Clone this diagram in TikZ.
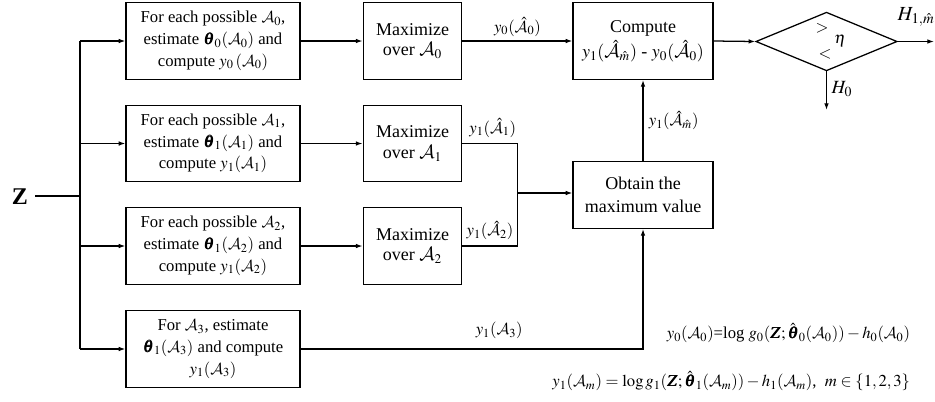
\documentclass[tikz,border=0pt]{standalone}
\usepackage{amsmath}
\usepackage{mathptmx}
\usepackage{bm}
\usepackage[no-math]{fontspec}
\setmainfont{Liberation Serif}
\DeclareMathAlphabet{\mathcal}{OMS}{cmsy}{m}{n}
\usetikzlibrary{shapes.geometric,arrows.meta}
\newcommand{\cA}{\mathcal{A}}
\begin{document}
\begin{tikzpicture}[x=0.75pt,y=-0.75pt,
  line width=0.95pt,
  arr/.style={-{Latex[length=5pt,width=3.5pt]}},
  estbox/.style={draw,align=center,minimum width=130.5pt,minimum height=57.5pt,inner sep=2pt,font=\fontsize{12.5}{16.3}\selectfont},
  maxbox/.style={draw,align=center,minimum width=74pt,minimum height=57.5pt,inner sep=2pt,font=\fontsize{13.5}{15.5}\selectfont},
  lbl/.style={font=\fontsize{12.5}{14}\selectfont,inner sep=1pt}]
\useasboundingbox (0,0) rectangle (935,401);
% input
\node[font=\fontsize{18}{18}\bfseries\selectfont] (z) at (20,197) {Z};
\coordinate (zr) at (35,196);
\coordinate (bus) at (80,196);
\coordinate (bt) at (80,41);
\coordinate (bb) at (80,349);
% estimation boxes
\node[estbox] (b0) at (213,41) {For each possible $\cA_0$,\\ estimate $\bm{\theta}_0(\cA_0)$ and\\ compute $y_0\,(\cA_0)$};
\node[estbox] (b1) at (213,143.5) {For each possible $\cA_1$,\\ estimate $\bm{\theta}_1(\cA_1)$ and\\ compute $y_1(\cA_1)$};
\node[estbox] (b2) at (213,246) {For each possible $\cA_2$,\\ estimate $\bm{\theta}_1(\cA_2)$ and\\ compute $y_1(\cA_2)$};
\node[estbox] (b3) at (213,349) {For $\cA_3$, estimate\\ $\bm{\theta}_1(\cA_3)$ and compute\\ $y_1(\cA_3)$};
% maximize boxes
\node[maxbox] (m0) at (412.5,41) {Maximize\\ over $\cA_0$};
\node[maxbox] (m1) at (412.5,143.5) {Maximize\\ over $\cA_1$};
\node[maxbox] (m2) at (412.5,246) {Maximize\\ over $\cA_2$};
% compute & obtain
\node[draw,align=center,minimum width=105pt,minimum height=57.5pt,inner sep=2pt,font=\fontsize{13.5}{19}\selectfont] (cmp) at (643,41)
  {Compute\\ $y_1(\hat{\cA}_{\hat m})$ - $y_0(\hat{\cA}_0)$};
\node[draw,align=center,minimum width=105pt,minimum height=50pt,inner sep=2pt,font=\fontsize{13.5}{17}\selectfont] (obt) at (643,195)
  {Obtain the\\ maximum value};
% decision diamond
\node[draw,diamond,minimum width=106pt,minimum height=44pt,inner sep=0pt] (dec) at (826.5,41.5) {};
\node[lbl] (gt) at (822,28) {$>$};
\node[lbl] (lt) at (825,54) {$<$};
\node[lbl] (eta) at (840,41) {$\eta$};
\coordinate (h1end) at (934,41.5);
\coordinate (h0end) at (826.5,110);
% connectors
\draw (zr) -- (bus);
\draw (bt) -- (bb);
\draw[arr] (bt) -- (b0.west);
\draw[arr] (bus |- b1.west) -- (b1.west);
\draw[arr] (bus |- b2.west) -- (b2.west);
\draw[arr] (bb) -- (b3.west);
\draw[arr] (b0) -- (m0);
\draw[arr] (b1) -- (m1);
\draw[arr] (b2) -- (m2);
\coordinate (j) at (517.5,193);
\draw[arr] (m0) -- node[lbl,above=2pt] (l0) {$y_0(\hat{\cA}_0)$} (cmp);
\draw (m1.east) -- node[lbl,above=3pt,pos=0.55] (l1) {$y_1(\hat{\cA}_1)$} (j |- m1.east) -- (j);
\draw (m2.east) -- node[lbl,above=3pt,pos=0.5] (l2) {$y_1(\hat{\cA}_2)$} (j |- m2.east) -- (j);
\draw[arr] (j) -- (obt.west |- j);
\draw[arr] (b3.east) -- node[lbl,above=6pt,pos=0.58] (l3) {$y_1(\cA_3)$} (obt.south |- b3.east) -- (obt.south);
\draw[arr] (obt.north) -- node[lbl,right=3pt] (lm) {$y_1(\hat{\cA}_{\hat m})$} (cmp.south);
\draw[arr] (cmp.east) -- (dec.west);
\draw[arr] (dec.east) -- (h1end);
\draw[arr] (dec.south) -- (h0end);
\node[font=\fontsize{15}{15}\selectfont,inner sep=0pt] (h1) at (916,17) {$H_{1,\hat m}$};
\node[font=\fontsize{14}{14}\selectfont,inner sep=0pt] (h0) at (842,89) {$H_0$};
% formulas
\node[lbl,anchor=east] (f0) at (912,333) {$y_0(\cA_0)$=log $g_0(\bm{Z};\hat{\bm{\theta}}_0(\cA_0)) - h_0(\cA_0)$};
\node[lbl,anchor=east] (f1) at (912,381) {$y_1(\cA_m) = \log g_1(\bm{Z};\hat{\bm{\theta}}_1(\cA_m)) - h_1(\cA_m)$,\ \ $m\in\{1,2,3\}$};
\end{tikzpicture}
\end{document}
